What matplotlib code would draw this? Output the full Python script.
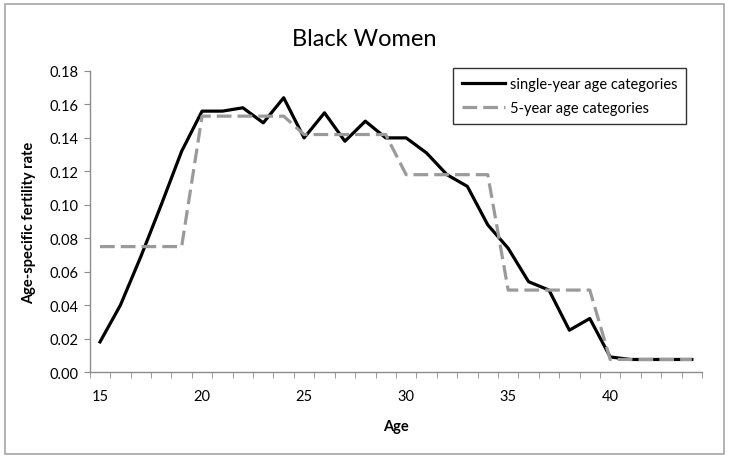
import matplotlib.pyplot as plt
from matplotlib.patches import Rectangle

plt.rcParams['font.family'] = ['Lato', 'DejaVu Sans']

# ages 15..44 (one category each)
ages = list(range(15, 45))

# single-year age-specific fertility rates
single_year = [0.018, 0.040, 0.069, 0.100, 0.132,
               0.156, 0.156, 0.158, 0.149, 0.164,
               0.140, 0.155, 0.138, 0.150, 0.140,
               0.140, 0.131, 0.118, 0.111, 0.088,
               0.074, 0.054, 0.049, 0.025, 0.032,
               0.009, 0.0075, 0.0075, 0.0075, 0.0075]

# 5-year group rates, one value per group
groups = [15, 20, 25, 30, 35, 40]
five_year_rates = [0.075, 0.153, 0.142, 0.118, 0.049, 0.0075]
five_year = [five_year_rates[groups.index(a - (a - 15) % 5)] for a in ages]

tick_labels = [15, 20, 25, 30, 35, 40]

fig = plt.figure(figsize=(7.29, 4.6), dpi=100)
# outer chart border, like an Excel chart area
fig.patches.append(Rectangle((5 / 729, 5 / 460), 719 / 729, 450 / 460,
                             transform=fig.transFigure, fill=False,
                             edgecolor='#a6a6a6', linewidth=1.2))

ax = fig.add_axes([0.1232, 0.1891, 0.963 - 0.1232, 0.8435 - 0.1891])

ax.plot(ages, single_year, color='black', linewidth=2.3,
        label='single-year age categories', zorder=2)
ax.plot(ages, five_year, color='#9a9a9a', linewidth=2.3,
        dashes=(4.6, 1.9), label='5-year age categories', zorder=3)

ax.set_xlim(14.5, 44.5)
ax.set_ylim(0, 0.18)
ax.set_yticks([i * 0.02 for i in range(10)])
ax.set_yticklabels([f"{i * 0.02:.2f}" for i in range(10)])
ax.set_xticks(tick_labels)
ax.set_xticklabels([str(t) for t in tick_labels])
ax.set_xticks([a - 0.5 for a in ages] + [44.5], minor=True)
ax.tick_params(axis='x', which='major', length=0, pad=12, labelsize=10.5)
ax.tick_params(axis='x', which='minor', length=4, color='#8c8c8c', direction='out')
ax.tick_params(axis='y', length=4, color='#8c8c8c', labelsize=10.5, pad=4)

for s in ['top', 'right']:
    ax.spines[s].set_visible(False)
for s in ['left', 'bottom']:
    ax.spines[s].set_color('#8c8c8c')
    ax.spines[s].set_linewidth(1.0)

ax.set_xlabel('Age', fontweight='bold', fontsize=10.5, labelpad=12)
ax.set_ylabel('Age-specific fertility rate', fontweight='bold', fontsize=10.5, labelpad=10)
fig.text(0.5, 1 - 40 / 460, 'Black Women', ha='center', va='center', fontsize=17)

leg = ax.legend(loc='upper right', bbox_to_anchor=(686 / 729, 1 - 69 / 460),
                bbox_transform=fig.transFigure, fontsize=10.5, frameon=True,
                fancybox=False, handlelength=3.0, handletextpad=0.3,
                borderpad=0.6, labelspacing=0.7, borderaxespad=0)
leg.get_frame().set_edgecolor('black')
leg.get_frame().set_linewidth(1.0)

fig.savefig('out.png', dpi=100)
